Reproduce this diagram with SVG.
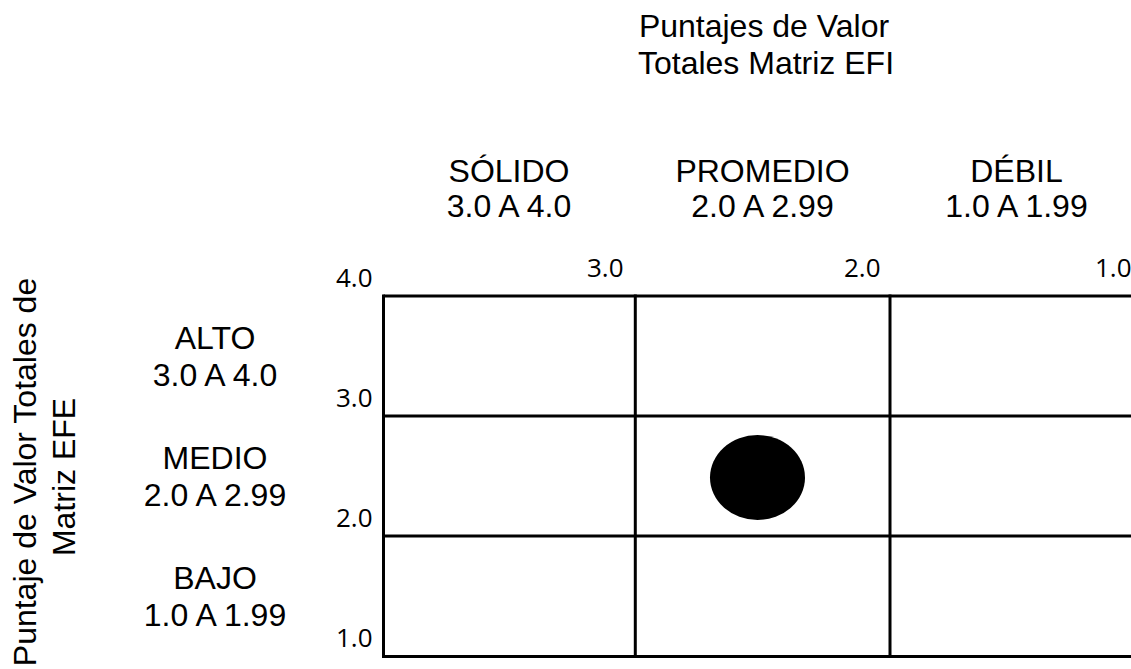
<svg xmlns="http://www.w3.org/2000/svg" width="1131" height="669" viewBox="0 0 1131 669">
<style>
.lbl{font-family:"Liberation Sans",Arial,sans-serif;font-size:32px;fill:#000;text-anchor:middle}
.tick{font-family:"Open Sans","Noto Sans",sans-serif;font-size:26px;fill:#000}
.grid{stroke:#000;stroke-width:3;fill:none}
</style>
<rect width="1131" height="669" fill="#fff"/>
<g id="title-x">
<text class="lbl" x="764" y="37">Puntajes de Valor</text>
<text class="lbl" x="766" y="74">Totales Matriz EFI</text>
</g>
<g id="title-y">
<text class="lbl" transform="translate(36,472) rotate(-90)">Puntaje de Valor Totales de</text>
<text class="lbl" transform="translate(75,477) rotate(-90)">Matriz EFE</text>
</g>
<g id="col-solido">
<text class="lbl" x="509" y="181.5">SÓLIDO</text>
<text class="lbl" x="509" y="217">3.0 A 4.0</text>
</g>
<g id="col-promedio">
<text class="lbl" x="762.5" y="181.5">PROMEDIO</text>
<text class="lbl" x="762.5" y="217">2.0 A 2.99</text>
</g>
<g id="col-debil">
<text class="lbl" x="1016.5" y="181.5">DÉBIL</text>
<text class="lbl" x="1016.5" y="217">1.0 A 1.99</text>
</g>
<g id="row-alto">
<text class="lbl" x="215" y="349">ALTO</text>
<text class="lbl" x="215" y="386">3.0 A 4.0</text>
</g>
<g id="row-medio">
<text class="lbl" x="215" y="469">MEDIO</text>
<text class="lbl" x="215" y="506">2.0 A 2.99</text>
</g>
<g id="row-bajo">
<text class="lbl" x="215" y="589">BAJO</text>
<text class="lbl" x="215" y="626">1.0 A 1.99</text>
</g>
<g id="ticks">
<text class="tick" x="336" y="287">4.0</text>
<text class="tick" x="587" y="277">3.0</text>
<text class="tick" x="844" y="277">2.0</text>
<text class="tick" x="1095" y="277">1.0</text>
<text class="tick" x="336" y="407">3.0</text>
<text class="tick" x="336" y="527">2.0</text>
<text class="tick" x="336" y="647">1.0</text>
</g>
<g id="grid">
<line class="grid" x1="383.5" y1="296" x2="1150" y2="296"/>
<line class="grid" x1="383.5" y1="416" x2="1150" y2="416"/>
<line class="grid" x1="383.5" y1="536" x2="1150" y2="536"/>
<line class="grid" x1="382" y1="656.5" x2="1150" y2="656.5"/>
<line class="grid" x1="383.5" y1="294.5" x2="383.5" y2="658"/>
<line class="grid" x1="635.3" y1="294.5" x2="635.3" y2="658"/>
<line class="grid" x1="890" y1="294.5" x2="890" y2="658"/>
</g>
<g id="marker">
<ellipse cx="757.5" cy="477.5" rx="47.5" ry="42.5" fill="#000"/>
</g>
</svg>
